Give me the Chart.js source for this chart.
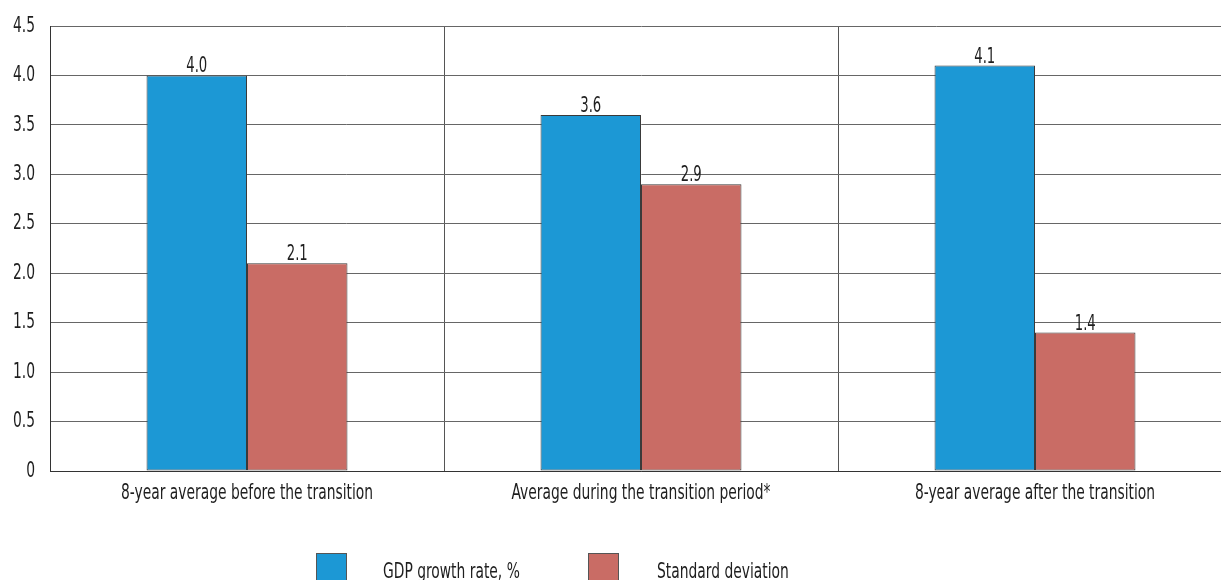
<!DOCTYPE html>
<html>
<head>
<meta charset="utf-8">
<script src="https://cdn.jsdelivr.net/npm/chart.js@4/dist/chart.umd.min.js"></script>
<style>
  html, body { margin: 0; padding: 0; background: #fff; overflow: hidden; }
  #wrap { width: 1221px; height: 580px; overflow: hidden; position: relative; }
  canvas { display: block; }
</style>
</head>
<body>
<div id="wrap"><canvas id="c" width="1240" height="580"></canvas></div>
<script>
const categories = [
  '8-year average before the transition',
  'Average during the transition period*',
  '8-year average after the transition'
];
const seriesNames = ['GDP growth rate, %', 'Standard deviation'];
const gdpGrowth = [4.0, 3.6, 4.1];
const stdDeviation = [2.1, 2.9, 1.4];
const yTicks = [0, 0.5, 1.0, 1.5, 2.0, 2.5, 3.0, 3.5, 4.0, 4.5];

const FONT = '"DejaVu Sans Condensed", "Liberation Sans Narrow", sans-serif';
const TEXT = '#1e1e1e';
const BLUE = '#1c98d5';
const RED = '#c96c65';
const SQUEEZE = 0.7; // horizontal squeeze for the condensed look of all text

function narrowText(ctx, text, x, y, align, baseline, size) {
  ctx.save();
  ctx.font = size + 'px ' + FONT;
  ctx.fillStyle = TEXT;
  ctx.textAlign = align;
  ctx.textBaseline = baseline;
  ctx.translate(x, y);
  ctx.scale(SQUEEZE, 1);
  ctx.fillText(text, 0, 0);
  ctx.restore();
}

const fmtTick = v => v === 0 ? '0' : v.toFixed(1);

// axis labels, positioned from the chart's own scales
const axisLabels = {
  id: 'axisLabels',
  afterDraw(chart) {
    const ctx = chart.ctx;
    const y = chart.scales.y, x = chart.scales.x;
    y.ticks.forEach(t => {
      narrowText(ctx, fmtTick(t.value), y.right - 15, y.getPixelForValue(t.value), 'right', 'middle', 22);
    });
    chart.data.labels.forEach((lab, i) => {
      narrowText(ctx, lab, x.getPixelForTick(i), x.top + 22, 'center', 'middle', 22);
    });
  }
};

// value labels above each bar
const valueLabels = {
  id: 'valueLabels',
  afterDatasetsDraw(chart) {
    const ctx = chart.ctx;
    chart.data.datasets.forEach((ds, i) => {
      chart.getDatasetMeta(i).data.forEach((bar, j) => {
        narrowText(ctx, ds.data[j].toFixed(1), bar.x, bar.y - 3, 'center', 'alphabetic', 21);
      });
    });
  }
};

// legend row under the axis labels
const bottomLegend = {
  id: 'bottomLegend',
  afterDraw(chart) {
    const ctx = chart.ctx;
    const items = [
      { x: 316, textX: 383 },
      { x: 588, textX: 657 }
    ];
    chart.data.datasets.forEach((ds, i) => {
      const it = items[i];
      ctx.save();
      ctx.fillStyle = ds.backgroundColor;
      ctx.strokeStyle = '#555';
      ctx.lineWidth = 1;
      ctx.fillRect(it.x, 553, 31, 32);
      ctx.strokeRect(it.x + 0.5, 553.5, 30, 32);
      ctx.restore();
      narrowText(ctx, ds.label, it.textX, 572, 'left', 'middle', 22);
    });
  }
};

new Chart(document.getElementById('c'), {
  type: 'bar',
  data: {
    labels: categories,
    datasets: [
      { label: seriesNames[0], data: gdpGrowth, backgroundColor: BLUE, borderColor: '#3a3a3a', borderWidth: 1, borderSkipped: false },
      { label: seriesNames[1], data: stdDeviation, backgroundColor: RED, borderColor: '#3a3a3a', borderWidth: 1, borderSkipped: false }
    ]
  },
  options: {
    responsive: false,
    animation: false,
    layout: { padding: { top: 26, right: 8, bottom: 0, left: 0 } },
    datasets: { bar: { barPercentage: 1.0, categoryPercentage: 0.51 } },
    plugins: { legend: { display: false }, tooltip: { enabled: false } },
    scales: {
      x: {
        grid: { color: '#555', lineWidth: 1, drawTicks: false, offset: true },
        border: { color: '#333', width: 1 },
        ticks: { display: false },
        afterFit(s) { s.height = 109; }
      },
      y: {
        min: 0, max: 4.5,
        afterBuildTicks(s) { s.ticks = yTicks.map(v => ({ value: v })); },
        grid: { color: '#666', lineWidth: 1, drawTicks: false },
        border: { color: '#333', width: 1 },
        ticks: { display: false },
        afterFit(s) { s.width = 50; }
      }
    }
  },
  plugins: [valueLabels, axisLabels, bottomLegend]
});
</script>
</body>
</html>
